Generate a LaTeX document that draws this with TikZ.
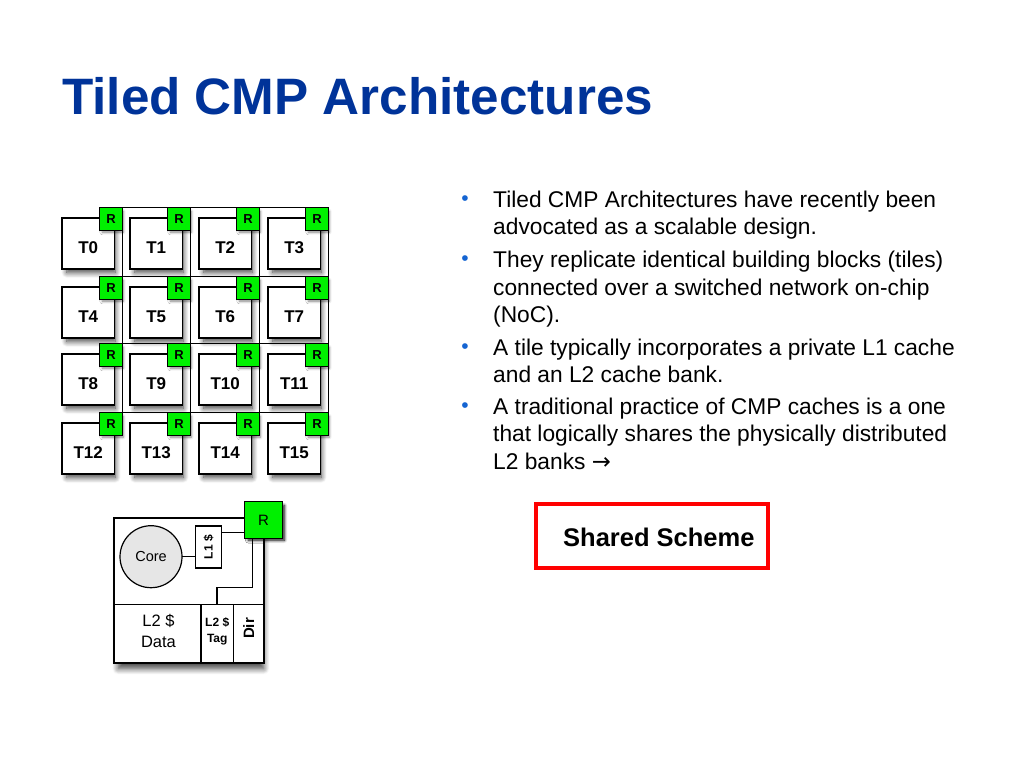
\documentclass[tikz,border=0pt]{standalone}
\usepackage{fontspec}
\setmainfont{Liberation Sans}
\newfontfamily\arrowfont{DejaVu Sans}
\usetikzlibrary{positioning, shadows.blur}

\definecolor{titleblue}{RGB}{0,51,153}
\definecolor{bulletblue}{RGB}{20,100,210}
\definecolor{routergreen}{RGB}{0,240,0}
\definecolor{coregray}{RGB}{230,230,230}

\tikzset{
    tile/.style={draw, line width=1.4pt, fill=white, anchor=north west, outer sep=0pt, minimum width=52.5pt, minimum height=51pt, inner sep=0pt, text height=19pt, text depth=0pt, font=\fontsize{17}{17}\selectfont\bfseries, blur shadow={shadow xshift=3pt, shadow yshift=-6pt, shadow scale=0.92, shadow blur radius=6pt, shadow blur steps=10, shadow opacity=75}},
    router/.style={draw, line width=1.4pt, fill=routergreen, outer sep=0pt, minimum width=23pt, minimum height=23pt, inner sep=0pt, font=\fontsize{13}{13}\selectfont\bfseries, blur shadow={shadow xshift=2pt, shadow yshift=-3pt, shadow scale=0.9, shadow blur radius=3pt, shadow blur steps=6, shadow opacity=50}},
    mesh/.style={line width=1.6pt},
    part/.style={draw, line width=1.2pt, anchor=north west, outer sep=0pt, inner sep=0pt, align=center},
    wire/.style={line width=1.2pt},
    bodyline/.style={anchor=base west, inner sep=0pt, font=\fontsize{22.75}{22.75}\selectfont}
}

\begin{document}
\begin{tikzpicture}[x=1pt, y=-1pt]
    \useasboundingbox (0,0) rectangle (1024,768);

    % Title
    \node[anchor=base west, inner sep=0pt, text=titleblue, font=\fontsize{51.2}{51.2}\selectfont\bfseries] (title) at (62,114) {Tiled CMP Architectures};

    % Tiles and routers
    \foreach \y [count=\j from 0] in {218,287,354,423} {
      \foreach \x [count=\k from 0] in {62,130,199,268} {
        \pgfmathtruncatemacro{\n}{4*\j+\k}
        \node[tile] (t\n) at (\x,\y) {T\n};
        \node[router] (r\n) at (\x+49,\y+1) {R};
      }
    }

    % Network links
    \foreach \a/\b in {0/1,1/2,2/3,4/5,5/6,6/7,8/9,9/10,10/11,12/13,13/14,14/15} {
      \draw[mesh] (r\a.north east) -- (r\b.north west);
    }
    \foreach \a/\b in {0/4,1/5,2/6,3/7,4/8,5/9,6/10,7/11,8/12,9/13,10/14,11/15} {
      \draw[mesh] (r\a.south east) -- (r\b.north east);
    }

    % Single tile
    \node[part, minimum width=150pt, minimum height=145pt, blur shadow={shadow xshift=2pt, shadow yshift=-8pt, shadow scale=0.97, shadow blur radius=6pt, shadow blur steps=10, shadow opacity=75}, fill=white] (tilebox) at (114,518) {};
    \node[part, minimum width=87pt, minimum height=58pt] (data) at (114,604.5) {};
    \node[inner sep=0pt, align=center, font=\fontsize{16.5}{21}\selectfont] (datatext) at ([xshift=1pt,yshift=3pt]data.center) {L2 \$\\Data};
    \node[part, minimum width=32.5pt, minimum height=58pt] (tag) at (201,604.5) {};
    \node[inner sep=0pt, align=center, font=\fontsize{12}{16}\selectfont\bfseries] (tagtext) at ([yshift=2pt]tag.center) {L2 \$\\Tag};
    \node[part, minimum width=30.5pt, minimum height=58pt] (dir) at (233.5,604.5) {};
    \node[rotate=90, inner sep=0pt, font=\fontsize{15}{15}\selectfont\bfseries] (dirtext) at ([yshift=5pt]dir.center) {Dir};
    \node[draw, circle, line width=1.2pt, fill=coregray, outer sep=0pt, minimum size=62pt, inner sep=0pt, font=\fontsize{14.5}{14.5}\selectfont] (core) at (151,556.7) {Core};
    \node[part, minimum width=26.5pt, minimum height=42pt] (lone) at (195.3,526) {};
    \node[rotate=90, inner sep=0pt, font=\fontsize{12}{12}\selectfont\bfseries] (lonetext) at (lone.center) {L1 \$};
    \node[router, minimum width=38pt, minimum height=36.5pt, font=\fontsize{15}{15}\selectfont, blur shadow={shadow xshift=3pt, shadow yshift=-3pt, shadow scale=0.95, shadow blur radius=3pt, shadow blur steps=6, shadow opacity=60}] (rbig) at (263.5,520) {R};

    % Wires
    \coordinate (bendone) at (252.3,587.7);
    \coordinate (bendtwo) at (217,587.7);
    \coordinate (tagtop) at (217,604.5);
    \coordinate (rfoot) at (252.3,538.2);
    \draw[wire] (core.east) -- (core.east -| lone.west);
    \draw[wire] (lone.east |- 0,532.7) -- (rbig.west |- 0,532.7);
    \draw[wire] (rfoot) -- (bendone) -- (bendtwo) -- (tagtop);

    % Bullet list
    \foreach \i/\y/\s/\t in {
      a/207/1/Tiled CMP Architectures have recently been,
      b/234/0/advocated as a scalable design.,
      c/267/1/They replicate identical building blocks (tiles),
      d/295/0/connected over a switched network on-chip,
      e/322/0/(NoC).,
      f/355/1/A tile typically incorporates a private L1 cache,
      g/382/0/and an L2 cache bank.,
      h/414/1/A traditional practice of CMP caches is a one,
      i/441/0/that logically shares the physically distributed,
      j/469/0/L2 banks {\arrowfont →}} {
      \node[bodyline] (line\i) at (493,\y) {\t};
      \ifnum\s=1
        \node[anchor=base, inner sep=0pt, text=bulletblue, font=\fontsize{21}{21}\selectfont] (dot\i) at (465,\y-2) {•};
      \fi
    }

    % Shared scheme box
    \node[draw=red, line width=3.6pt, fill=white, anchor=north west, outer sep=0pt, minimum width=232pt, minimum height=64pt, inner sep=0pt] (schemebox) at (536,504) {};
    \node[anchor=base west, inner sep=0pt, font=\fontsize{25.5}{25.5}\selectfont\bfseries] (scheme) at (563,546) {Shared Scheme};
\end{tikzpicture}
\end{document}
